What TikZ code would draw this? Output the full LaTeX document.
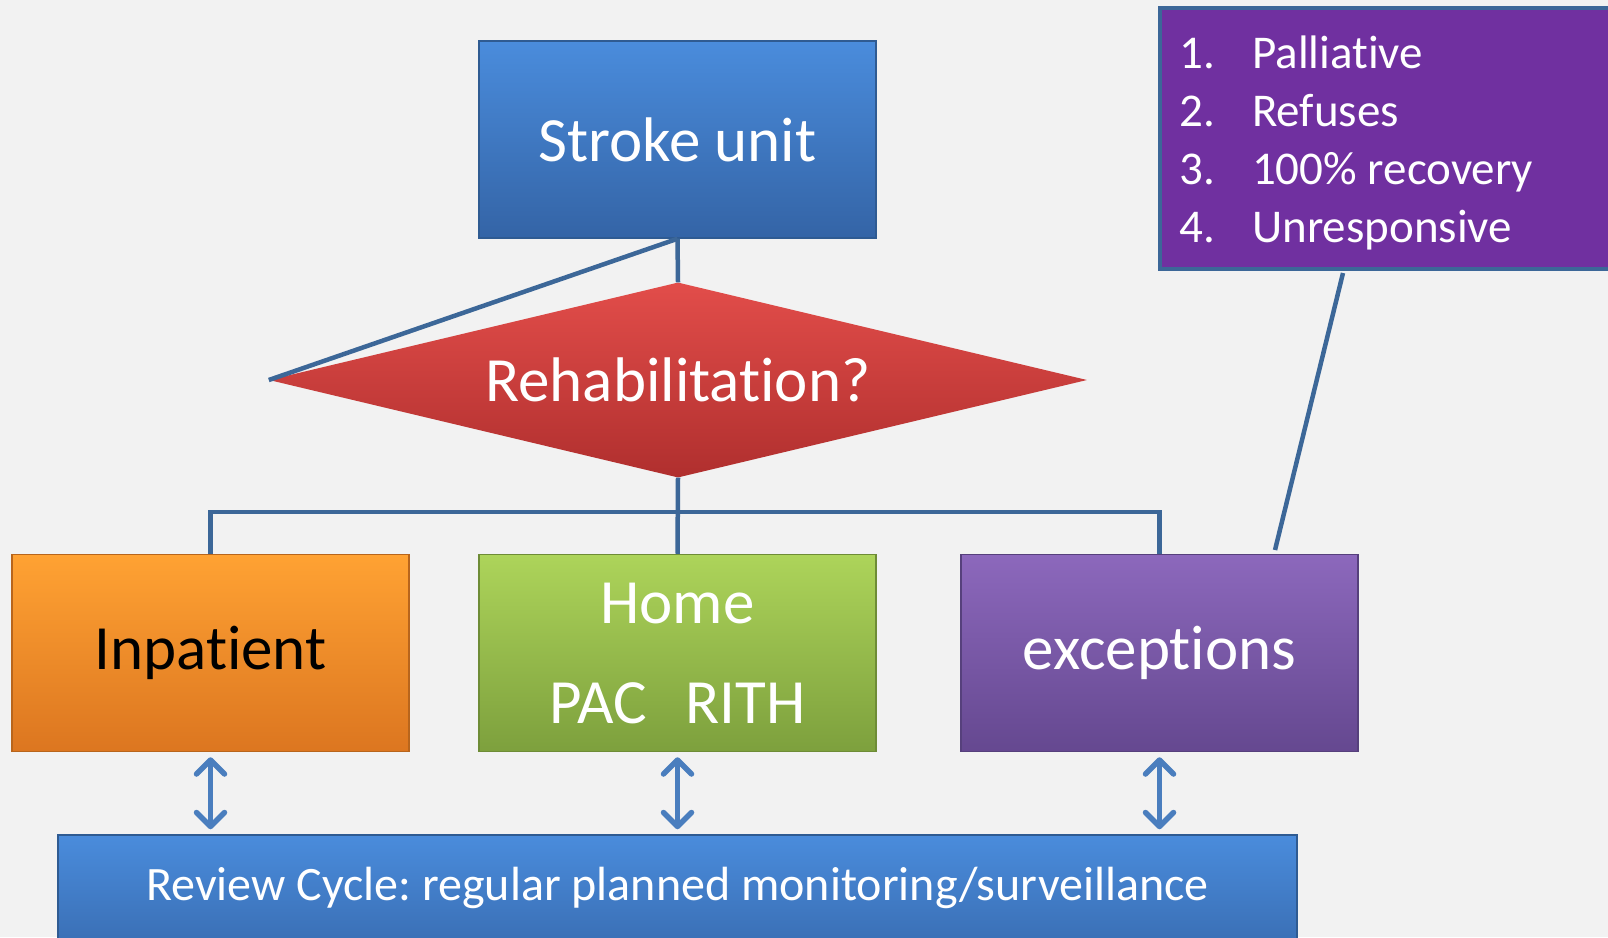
\documentclass[tikz,border=0pt]{standalone}
\usepackage{fontspec}
\setmainfont{Carlito}[Ligatures=NoCommon]
\usepackage{xcolor}
\usetikzlibrary{shapes.geometric,arrows.meta}
\usetikzlibrary{positioning}

\definecolor{bgcol}{HTML}{F2F2F2}
\definecolor{bluetop}{HTML}{4A8CDC}
\definecolor{bluebot}{HTML}{3464A6}
\definecolor{blueedge}{HTML}{2F5B92}
\definecolor{redtop}{HTML}{E24D4A}
\definecolor{redbot}{HTML}{B02F2E}
\definecolor{orangetop}{HTML}{FFA233}
\definecolor{orangebot}{HTML}{DC7620}
\definecolor{orangeedge}{HTML}{B8651C}
\definecolor{greentop}{HTML}{ADD45A}
\definecolor{greenbot}{HTML}{7DA03D}
\definecolor{greenedge}{HTML}{6E8C36}
\definecolor{purpletop}{HTML}{8C68BC}
\definecolor{purplebot}{HTML}{654890}
\definecolor{purpleedge}{HTML}{56407C}
\definecolor{calloutfill}{HTML}{7030A0}
\definecolor{linecol}{HTML}{3C6798}
\definecolor{arrcol}{HTML}{4A7EBE}

\frenchspacing

\begin{document}
\begin{tikzpicture}[x=1pt,y=-1pt,
  box/.style={rectangle,minimum width=397pt,minimum height=197pt,inner sep=0pt,
    line width=1.5pt,align=center,font=\fontsize{63}{100}\selectfont},
  link/.style={draw=linecol,line width=4.5pt},
  dblarrow/.style={draw=arrcol,line width=5.5pt,line cap=round,
    {Straight Barb[length=14pt,width=28pt,line cap=round,line join=round]}-{Straight Barb[length=14pt,width=28pt,line cap=round,line join=round]}}]

  \useasboundingbox (0,0) rectangle (1608,937);
  \clip (0,0) rectangle (1608,937);
  \fill[bgcol] (0,0) rectangle (1608,937);

  \def \yrow {653}

  % top of the chart
  \node[box,top color=bluetop,bottom color=bluebot,draw=blueedge,text=white]
    (stroke) at (677.5,139.5) {Stroke unit};
  \node[diamond,aspect=4.19,minimum width=818pt,minimum height=195pt,inner sep=0pt,
    top color=redtop,bottom color=redbot,text=white,font=\fontsize{63}{75}\selectfont]
    (rehab) at (678,380) {Rehabilitation?};

  % the three outcomes
  \node[box,top color=orangetop,bottom color=orangebot,draw=orangeedge,text=black]
    (inpat) at (210.5,\yrow) {Inpatient};
  \node[box,top color=greentop,bottom color=greenbot,draw=greenedge,text=white]
    (home) at (677.5,\yrow) {Home\\PAC\hspace*{38pt}RITH};
  \node[box,top color=purpletop,bottom color=purplebot,draw=purpleedge,text=white]
    (except) at (1159.5,\yrow) {exceptions};

  \node[rectangle,minimum width=1239pt,minimum height=150pt,inner sep=0pt,
    top color=bluetop,bottom color=bluebot,draw=blueedge,line width=1.5pt]
    (review) at (677.5,910) {};
  \node[text=white,font=\fontsize{48}{58}\selectfont] (reviewtxt) at (677.5,888)
    {Review Cycle: regular planned monitoring/surveillance};

  % exceptions list
  \node[rectangle,minimum width=480pt,minimum height=261pt,inner sep=0pt,
    fill=calloutfill,draw=linecol,line width=4pt] (excl) at (1400,138.5) {};
  \node[anchor=west,inner sep=0pt,text=white,font=\fontsize{47}{58}\selectfont]
    (exlist) at ([xshift=21pt,yshift=-5pt]excl.west)
    {\begin{tabular}{@{}p{73pt}@{}l@{}}
      1. & Palliative\\
      2. & Refuses\\
      3. & 100\% recovery\\
      4. & Unresponsive
    \end{tabular}};

  % connectors
  \draw[link] (stroke.south) -- (rehab.north);
  \draw[link] (stroke.south) -- (rehab.west);
  \draw[link] (rehab.south) -- (home.north);
  \draw[link] (inpat.north) -- ++(0,-42) -| (except.north);

  \coordinate (calltop) at (1343,273);
  \coordinate (callbot) at (1275,550);
  \draw[link] (calltop) -- (callbot);

  \draw[dblarrow] ([yshift=-5pt]inpat.south) -- ([yshift=5pt]inpat.south |- review.north);
  \draw[dblarrow] ([yshift=-5pt]home.south) -- ([yshift=5pt]home.south |- review.north);
  \draw[dblarrow] ([yshift=-5pt]except.south) -- ([yshift=5pt]except.south |- review.north);

\end{tikzpicture}
\end{document}
